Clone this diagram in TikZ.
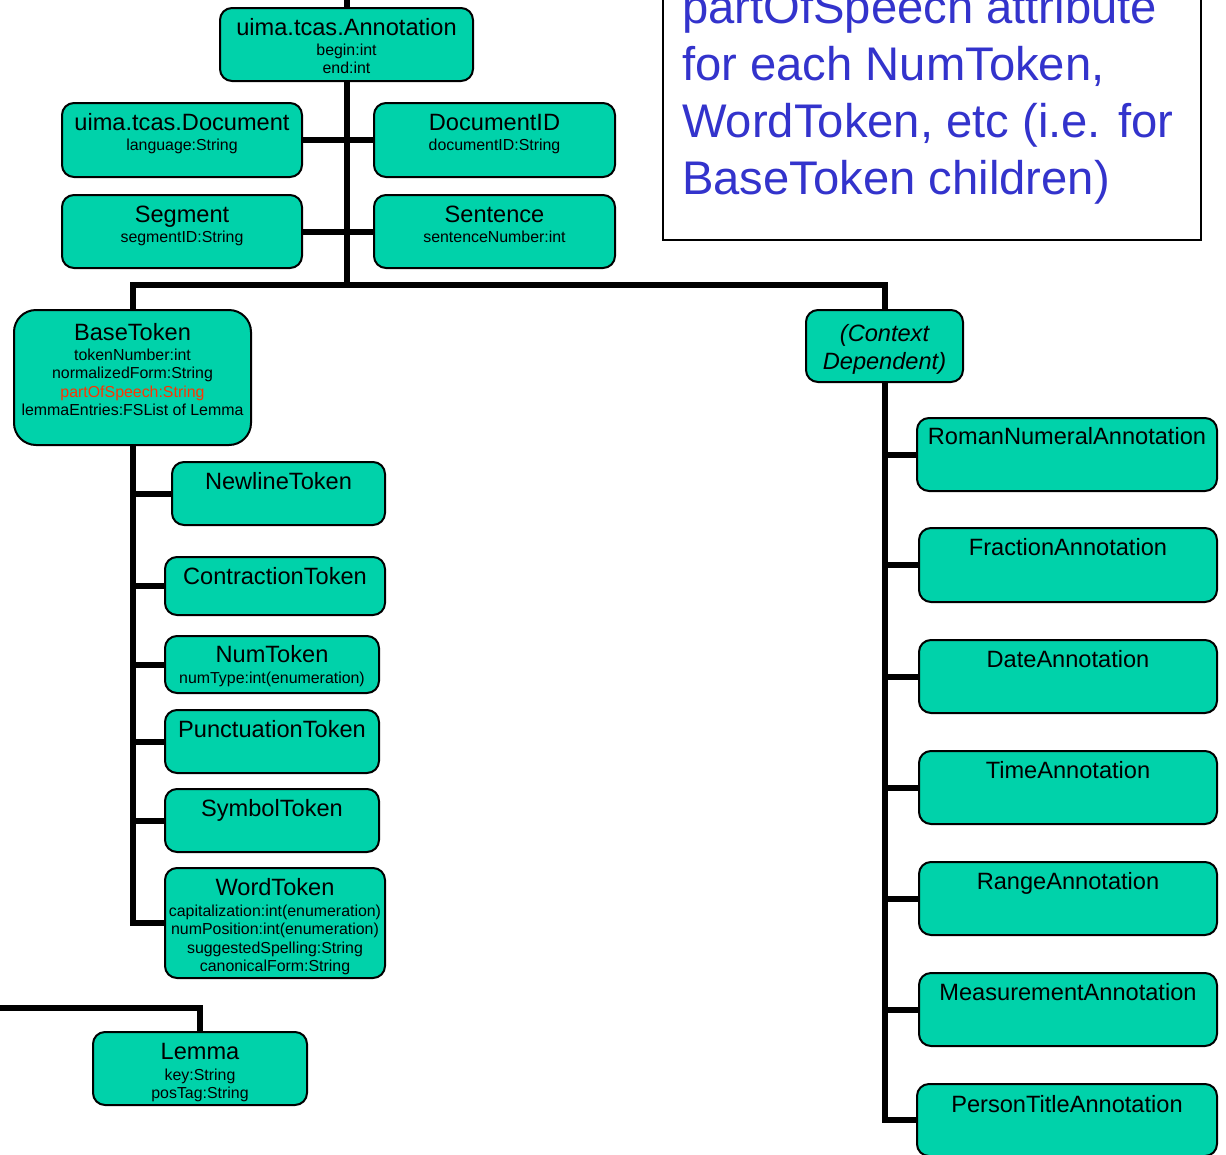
\documentclass[tikz,border=0pt]{standalone}
\usepackage{fontspec}
\setmainfont{Liberation Sans}
\usetikzlibrary{backgrounds}
\definecolor{boxfill}{RGB}{0,210,170}
\definecolor{noteblue}{RGB}{51,51,204}
\definecolor{attrred}{RGB}{255,51,0}

\begin{document}
\begin{tikzpicture}[x=1pt,y=-1pt,
  classbox/.style={draw=black, line width=2pt, fill=boxfill, rounded corners=12pt, inner sep=0pt},
  ttl/.style={anchor=base, inner sep=0pt, font=\fontsize{23.6}{27}\selectfont},
  % multi-line texts are placed by the baseline of their last line
  attr/.style={anchor=base, inner sep=0pt, align=center, font=\fontsize{15.9}{18.6}\selectfont},
  link/.style={line width=6pt, draw=black},
]
\useasboundingbox (0,0) rectangle (1226,1154);
\clip (0,0) rectangle (1226,1154);

% ---------- class boxes ----------
\node[classbox, minimum width=253pt, minimum height=73pt] (ann) at (346.5,44.5) {};
\node[ttl]  (ann-t) at (346.5,35) {uima.tcas.Annotation};
\node[attr] (ann-a) at (346.5,73.6) {begin:int\\end:int};

\node[classbox, minimum width=240pt, minimum height=74pt] (doc) at (182,140) {};
\node[ttl]  (doc-t) at (182,130) {uima.tcas.Document};
\node[attr] (doc-a) at (182,150) {language:String};

\node[classbox, minimum width=241pt, minimum height=74pt] (docid) at (494.5,140) {};
\node[ttl]  (docid-t) at (494.5,130) {DocumentID};
\node[attr] (docid-a) at (494.5,150) {documentID:String};

\node[classbox, minimum width=240pt, minimum height=73pt] (seg) at (182,231.5) {};
\node[ttl]  (seg-t) at (182,222) {Segment};
\node[attr] (seg-a) at (182,242) {segmentID:String};

\node[classbox, minimum width=241pt, minimum height=73pt] (sent) at (494.5,231.5) {};
\node[ttl]  (sent-t) at (494.5,222) {Sentence};
\node[attr] (sent-a) at (494.5,242) {sentenceNumber:int};

\node[classbox, rounded corners=22pt, minimum width=237pt, minimum height=135pt] (bt) at (132.5,377.5) {};
\node[ttl]  (bt-t) at (132.5,340) {BaseToken};
\node[attr] (bt-a) at (132.5,415.8) {tokenNumber:int\\normalizedForm:String\\\textcolor{attrred}{partOfSpeech:String}\\lemmaEntries:FSList of Lemma};

\node[classbox, minimum width=213pt, minimum height=63pt] (nl) at (278.5,493.5) {};
\node[ttl] (nl-t) at (278.5,489) {NewlineToken};

\node[classbox, minimum width=220pt, minimum height=58pt] (ct) at (275,586) {};
\node[ttl] (ct-t) at (275,584) {ContractionToken};

\node[classbox, minimum width=214pt, minimum height=57pt] (num) at (272,664.5) {};
\node[ttl]  (num-t) at (272,662) {NumToken};
\node[attr] (num-a) at (272,683) {numType:int(enumeration)};

\node[classbox, minimum width=214pt, minimum height=63pt] (pt) at (272,741.5) {};
\node[ttl] (pt-t) at (272,737) {PunctuationToken};

\node[classbox, minimum width=214pt, minimum height=63pt] (sym) at (272,820.5) {};
\node[ttl] (sym-t) at (272,816) {SymbolToken};

\node[classbox, minimum width=220pt, minimum height=110pt] (wt) at (275,923) {};
\node[ttl]  (wt-t) at (275,895) {WordToken};
\node[attr] (wt-a) at (275,971.8) {capitalization:int(enumeration)\\numPosition:int(enumeration)\\suggestedSpelling:String\\canonicalForm:String};

\node[classbox, minimum width=214pt, minimum height=73pt] (lem) at (200,1068.5) {};
\node[ttl]  (lem-t) at (200,1059) {Lemma};
\node[attr] (lem-a) at (200,1098.6) {key:String\\posTag:String};

\node[classbox, minimum width=157pt, minimum height=72pt] (cd) at (884.5,346) {};
\node[ttl, align=center, font=\fontsize{23.6}{28}\selectfont\itshape] (cd-t) at (884.5,369) {(Context\\Dependent)};

\node[classbox, minimum width=300pt, minimum height=73pt] (roman) at (1067,454.5) {};
\node[ttl] (roman-t) at (1067,444) {RomanNumeralAnnotation};

\node[classbox, minimum width=298pt, minimum height=74pt] (frac) at (1068,565) {};
\node[ttl] (frac-t) at (1068,555) {FractionAnnotation};

\node[classbox, minimum width=298pt, minimum height=73pt] (date) at (1068,676.5) {};
\node[ttl] (date-t) at (1068,667) {DateAnnotation};

\node[classbox, minimum width=298pt, minimum height=73pt] (time) at (1068,787.5) {};
\node[ttl] (time-t) at (1068,778) {TimeAnnotation};

\node[classbox, minimum width=298pt, minimum height=73pt] (range) at (1068,898.5) {};
\node[ttl] (range-t) at (1068,889) {RangeAnnotation};

\node[classbox, minimum width=298pt, minimum height=73pt] (meas) at (1068,1009.5) {};
\node[ttl] (meas-t) at (1068,1000) {MeasurementAnnotation};

\node[classbox, minimum width=300pt, minimum height=72pt] (pers) at (1067,1120) {};
\node[ttl] (pers-t) at (1067,1112) {PersonTitleAnnotation};

% ---------- note ----------
\node[draw=black, line width=2pt, fill=white, minimum width=538pt, minimum height=270pt, inner sep=0pt] (note) at (932,105) {};
\node[anchor=base west, inner sep=0pt, align=left, text=noteblue, font=\fontsize{47.2}{57}\selectfont] (note-t) at (682,194)
  {partOfSpeech attribute\\for each NumToken,\\WordToken, etc (i.e. for\\BaseToken children)};

% ---------- connectors ----------
\coordinate (top) at (346.5,0);
\coordinate (hub) at (346.5,285);
\coordinate (lz) at (0,1008);
\begin{scope}[on background layer]
  \draw[link] (top) -- (ann.north);
  \draw[link] (ann.south) -- (hub);
  \draw[link] (doc.east) -- (docid.west);
  \draw[link] (seg.east) -- (sent.west);
  \draw[link] (bt.north) |- (hub) -| (cd.north);
  \foreach \c in {nl,ct,num,pt,sym,wt} \draw[link] (bt.south) |- (\c.west);
  \foreach \c in {roman,frac,date,time,range,meas,pers} \draw[link] (cd.south) |- (\c.west);
  \draw[link] (lz) -| (lem.north);
\end{scope}
\end{tikzpicture}
\end{document}
